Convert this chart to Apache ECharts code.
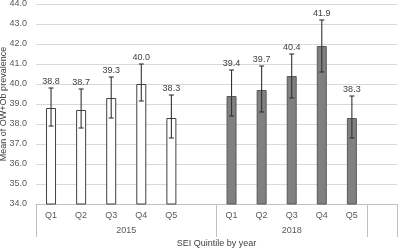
<!DOCTYPE html>
<html>
<head>
<meta charset="utf-8">
<script src="https://cdn.jsdelivr.net/npm/echarts@6/dist/echarts.min.js"></script>
<style>
  html, body { margin: 0; padding: 0; background: #fff; }
  #chart { width: 400px; height: 251px; }
</style>
</head>
<body>
<div id="chart"></div>
<script>
// data
var quintiles = ['Q1', 'Q2', 'Q3', 'Q4', 'Q5'];
var years = ['2015', '2018'];
var means2015 = [38.8, 38.7, 39.3, 40.0, 38.3];
var means2018 = [39.4, 39.7, 40.4, 41.9, 38.3];
var lower2015 = [37.9, 37.8, 38.3, 39.15, 37.3];
var upper2015 = [39.8, 39.75, 40.35, 41.0, 39.45];
var lower2018 = [38.4, 38.6, 39.3, 40.6, 37.3];
var upper2018 = [40.7, 40.9, 41.5, 43.2, 39.4];

// Q1..Q5 + blank for each year
var categories = quintiles.concat(['']).concat(quintiles).concat(['']);
var n = categories.length;
var off2018 = quintiles.length + 1;

var bars2015 = [], bars2018 = [], errData = [];
for (var i = 0; i < n; i++) { bars2015.push(null); bars2018.push(null); }
for (var k = 0; k < quintiles.length; k++) {
    bars2015[k] = means2015[k];
    bars2018[off2018 + k] = means2018[k];
    errData.push([k, lower2015[k], upper2015[k], means2015[k]]);
    errData.push([off2018 + k, lower2018[k], upper2018[k], means2018[k]]);
}

// group separators / year label centres on the category scale
var tickPos = [0, off2018, off2018 + quintiles.length, n];
var yearPos = [off2018 / 2, off2018 + quintiles.length / 2];

var font = 'Liberation Sans';
var myCharts = echarts.init(document.getElementById('chart'), null, { renderer: 'canvas' });

var option = {
    animation: false,
    grid: { left: 36, right: 3, top: 4, bottom: 47, outerBoundsMode: 'none' },
    xAxis: [{
        type: 'category',
        data: categories,
        axisLine: { show: true, lineStyle: { color: '#bfbfbf', width: 1 } },
        axisTick: { show: false },
        axisLabel: { color: '#595959', fontSize: 9, fontFamily: font, margin: 7, interval: 0 },
        splitLine: { show: false }
    }, {
        type: 'value',
        min: 0,
        max: n,
        position: 'bottom',
        axisLine: { show: false },
        splitLine: { show: false },
        axisTick: {
            show: true,
            customValues: tickPos,
            length: 33,
            lineStyle: { color: '#bfbfbf', width: 1 }
        },
        axisLabel: {
            customValues: yearPos,
            color: '#595959',
            fontSize: 9,
            fontFamily: font,
            margin: 22,
            formatter: function (v) { return v < off2018 ? years[0] : years[1]; }
        },
        name: 'SEI Quintile by year',
        nameLocation: 'middle',
        nameGap: 35,
        nameMoveOverlap: false,
        nameTextStyle: { color: '#404040', fontSize: 9, fontFamily: font }
    }],
    yAxis: {
        type: 'value',
        min: 34,
        max: 44,
        interval: 1,
        axisLine: { show: false },
        axisTick: { show: false },
        axisLabel: {
            color: '#595959', fontSize: 9, fontFamily: font, margin: 9,
            formatter: function (v) { return v.toFixed(1); }
        },
        splitLine: { lineStyle: { color: '#d9d9d9', width: 1 } },
        name: 'Mean of OW+Ob prevalence',
        nameLocation: 'middle',
        nameRotate: 90,
        nameGap: 28,
        nameMoveOverlap: false,
        nameTextStyle: { color: '#404040', fontSize: 9, fontFamily: font }
    },
    series: [{
        name: '2015',
        type: 'bar',
        xAxisIndex: 0,
        barWidth: 10,
        barGap: '-100%',
        itemStyle: { color: '#ffffff', borderColor: '#404040', borderWidth: 1 },
        data: bars2015
    }, {
        name: '2018',
        type: 'bar',
        xAxisIndex: 0,
        barWidth: 10,
        barGap: '-100%',
        itemStyle: { color: '#808080', borderColor: '#595959', borderWidth: 1 },
        data: bars2018
    }, {
        name: 'error',
        type: 'custom',
        xAxisIndex: 0,
        z: 5,
        encode: { x: 0, y: [1, 2] },
        renderItem: function (params, api) {
            var lo = api.coord([api.value(0), api.value(1)]);
            var hi = api.coord([api.value(0), api.value(2)]);
            var cap = 2.5;
            var st = { stroke: '#333333', lineWidth: 1.1 };
            return {
                type: 'group',
                children: [
                    { type: 'line', shape: { x1: hi[0], y1: hi[1], x2: lo[0], y2: lo[1] }, style: st },
                    { type: 'line', shape: { x1: hi[0] - cap, y1: hi[1], x2: hi[0] + cap, y2: hi[1] }, style: st },
                    { type: 'line', shape: { x1: lo[0] - cap, y1: lo[1], x2: lo[0] + cap, y2: lo[1] }, style: st },
                    {
                        type: 'text',
                        x: hi[0],
                        y: hi[1] - 2,
                        style: {
                            text: api.value(3).toFixed(1),
                            align: 'center',
                            verticalAlign: 'bottom',
                            fill: '#404040',
                            font: '9px "' + font + '"'
                        }
                    }
                ]
            };
        },
        data: errData
    }]
};
myCharts.setOption(option);
</script>
</body>
</html>
